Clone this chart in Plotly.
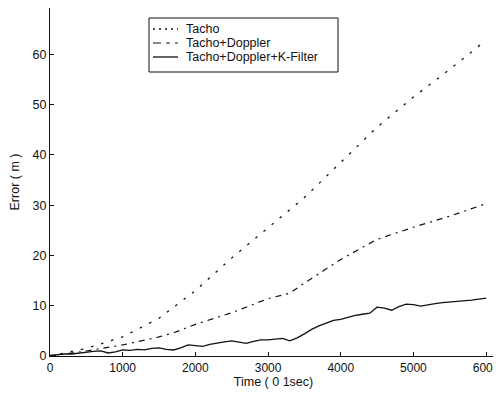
import plotly.graph_objects as go

# ---- data ----
tacho_t = [0, 500, 1000, 1500, 2000, 2500, 3000, 3500, 4000, 4500, 5000, 5500, 6000]
tacho_v = [0, 1.5, 3.8, 7.5, 13.0, 19.5, 25.5, 31.5, 38.5, 45.5, 51.5, 57.0, 62.8]

doppler_t = [0, 500, 1000, 1500, 1700, 2000, 2500, 3000, 3300, 3500, 4000, 4500, 5000, 5500, 6000]
doppler_v = [0, 1.0, 2.2, 3.8, 4.6, 6.3, 8.6, 11.4, 12.5, 14.5, 19.2, 23.2, 25.6, 27.8, 30.3]

kf_t = [0, 100, 200, 300, 400, 500, 600, 700, 800, 900, 1000, 1100, 1200, 1300, 1400,
        1500, 1600, 1700, 1800, 1900, 2000, 2100, 2200, 2300, 2400, 2500, 2600, 2700,
        2800, 2900, 3000, 3100, 3200, 3300, 3400, 3500, 3600, 3700, 3800, 3900, 4000,
        4100, 4200, 4300, 4400, 4500, 4600, 4700, 4800, 4900, 5000, 5100, 5200, 5300,
        5400, 5500, 5600, 5700, 5800, 5900, 6000]
kf_v = [0.1, 0.3, 0.4, 0.4, 0.6, 0.7, 0.9, 1.0, 0.6, 0.8, 1.2, 1.1, 1.3, 1.2, 1.5,
        1.6, 1.3, 1.2, 1.6, 2.2, 2.0, 1.9, 2.3, 2.6, 2.8, 3.0, 2.7, 2.5, 2.9, 3.2,
        3.2, 3.4, 3.5, 3.0, 3.6, 4.4, 5.3, 6.0, 6.6, 7.1, 7.3, 7.7, 8.1, 8.3, 8.5,
        9.7, 9.5, 9.1, 9.8, 10.3, 10.2, 9.9, 10.2, 10.4, 10.6, 10.7, 10.9, 10.9,
        11.1, 11.3, 11.5]

names = ["Tacho", "Tacho+Doppler", "Tacho+Doppler+K-Filter"]
x_ticks = [0, 1000, 2000, 3000, 4000, 5000, 6000]
y_ticks = [0, 10, 20, 30, 40, 50, 60]
x_title = "Time ( 0 1sec)"
y_title = "Error ( m )"

FONT = "Liberation Sans, Arial, sans-serif"
INK = "#111"
line_dashes = ["2.5px,8px", "6px,5px,2px,5px", "solid"]
key_dashes = ["2px,4px", "8px,5px,4px,5px", "solid"]
widths = [1.3, 1.2, 1.3]
series = [(tacho_t, tacho_v), (doppler_t, doppler_v), (kf_t, kf_v)]

# the page body has an 8px margin, so the figure starts at (8, 8) in the window;
# keep the page from overflowing (which would bring in a scrollbar)
OFF = 8
W, H = 501 - OFF, 397 - 2 * OFF
ML, MR, MT = 50 - OFF, 4, 8 - OFF
MB = (OFF + H) - 356
PW, PH = W - ML - MR, H - MT - MB


def px(x):  # window pixel -> paper fraction
    return (x - OFF - ML) / PW


def py(y):
    return (MT + PH - (y - OFF)) / PH


fig = go.Figure()
for (t, v), n, d, w in zip(series, names, line_dashes, widths):
    fig.add_trace(go.Scatter(x=t, y=v, mode="lines", name=n, showlegend=False,
                             line=dict(color=INK, width=w, dash=d)))

# legend box (drawn as layout decoration)
shapes = [dict(type="rect", xref="paper", yref="paper",
               x0=px(149), x1=px(338), y0=py(72), y1=py(18),
               line=dict(color=INK, width=1), fillcolor="white", layer="above")]
annotations = []
for i, (n, d, w) in enumerate(zip(names, key_dashes, widths)):
    yy = 29 + 14 * i
    shapes.append(dict(type="line", xref="paper", yref="paper",
                       x0=px(153), x1=px(178), y0=py(yy), y1=py(yy),
                       line=dict(color=INK, width=w, dash=d), layer="above"))
    annotations.append(dict(xref="paper", yref="paper", x=px(184), y=py(yy),
                            xanchor="left", yanchor="middle", showarrow=False,
                            text=n, font=dict(family=FONT, size=12.5, color=INK)))

fig.update_layout(
    width=W, height=H,
    margin=dict(l=ML, r=MR, t=MT, b=MB, autoexpand=False),
    paper_bgcolor="white", plot_bgcolor="white",
    font=dict(family=FONT, size=12.5, color=INK),
    showlegend=False,
    shapes=shapes, annotations=annotations,
    xaxis=dict(range=[0, 6150], tickvals=x_ticks, ticks="inside", ticklen=4,
               tickcolor=INK, showline=True, linecolor=INK, linewidth=1,
               showgrid=False, zeroline=False, mirror=False,
               tickfont=dict(size=12), ticklabelstandoff=1,
               title=dict(text=x_title, font=dict(size=12.5), standoff=4)),
    yaxis=dict(range=[0, 69.2], tickvals=y_ticks, ticks="inside", ticklen=4,
               tickcolor=INK, showline=True, linecolor=INK, linewidth=1,
               showgrid=False, zeroline=False, mirror=False,
               tickfont=dict(size=12.5),
               title=dict(text=y_title, font=dict(size=12.5), standoff=14)),
)

fig.write_html("out.html")
